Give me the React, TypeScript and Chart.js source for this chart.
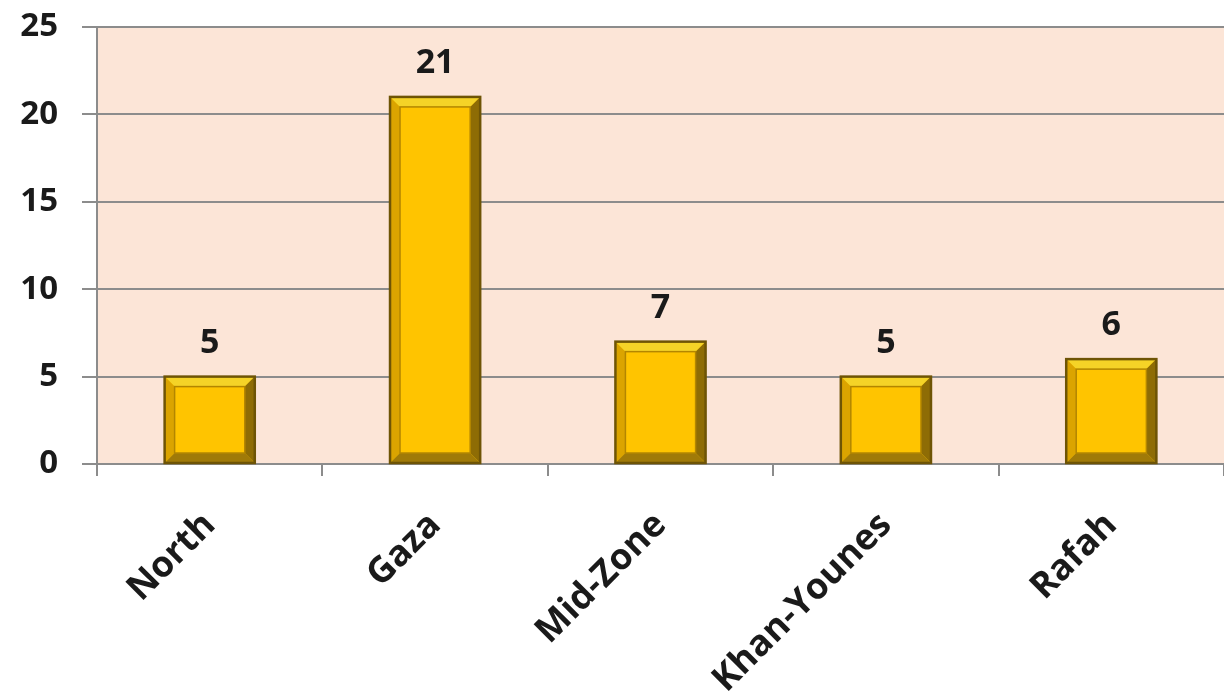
import React, { useEffect, useRef } from "react";
import { Chart, registerables } from "chart.js";

Chart.register(...registerables);

const categories = ["North", "Gaza", "Mid-Zone", "Khan-Younes", "Rafah"];
const counts = [5, 21, 7, 5, 6];
const yTicks = [0, 5, 10, 15, 20, 25];

const FONT = "'Open Sans', 'Liberation Sans', sans-serif";

const bgPlugin = {
  id: "plotBg",
  beforeDraw(chart: any) {
    const { ctx, chartArea } = chart;
    ctx.save();
    ctx.fillStyle = "#FCE5D7";
    ctx.fillRect(chartArea.left, chartArea.top, chartArea.right - chartArea.left, chartArea.bottom - chartArea.top);
    ctx.restore();
  },
};

const bevelPlugin = {
  id: "bevel",
  afterDatasetsDraw(chart: any) {
    const { ctx } = chart;
    const meta = chart.getDatasetMeta(0);
    ctx.save();
    meta.data.forEach((bar: any) => {
      const w = bar.width;
      const l = bar.x - w / 2;
      const r = bar.x + w / 2;
      const t = bar.y;
      const b = bar.base;
      const bv = 10;
      const poly = (pts: number[][], color: string) => {
        ctx.beginPath();
        ctx.moveTo(pts[0][0], pts[0][1]);
        for (let i = 1; i < pts.length; i++) ctx.lineTo(pts[i][0], pts[i][1]);
        ctx.closePath();
        ctx.fillStyle = color;
        ctx.fill();
      };
      poly([[l, t], [r, t], [r - bv, t + bv], [l + bv, t + bv]], "#F5D327");
      poly([[l, t], [l + bv, t + bv], [l + bv, b - bv], [l, b]], "#DBA400");
      poly([[r, t], [r, b], [r - bv, b - bv], [r - bv, t + bv]], "#8E6C05");
      poly([[l, b], [l + bv, b - bv], [r - bv, b - bv], [r, b]], "#A07A08");
      ctx.strokeStyle = "#B38600";
      ctx.lineWidth = 1.5;
      ctx.strokeRect(l + bv, t + bv, w - 2 * bv, b - t - 2 * bv);
      ctx.strokeStyle = "#6E5405";
      ctx.lineWidth = 2.5;
      ctx.strokeRect(l, t, w, b - t);
    });
    ctx.restore();
  },
};

const labelPlugin = {
  id: "valueLabels",
  afterDatasetsDraw(chart: any) {
    const { ctx } = chart;
    const meta = chart.getDatasetMeta(0);
    const data = chart.data.datasets[0].data;
    ctx.save();
    ctx.font = `bold 34px ${FONT}`;
    ctx.fillStyle = "#1a1a1a";
    ctx.textAlign = "center";
    ctx.textBaseline = "alphabetic";
    meta.data.forEach((bar: any, i: number) => {
      ctx.fillText(String(data[i]), bar.x, bar.y - 24);
    });
    ctx.restore();
  },
};

export default function App() {
  const ref = useRef<HTMLCanvasElement>(null);
  useEffect(() => {
    document.body.style.margin = "0";
    const chart = new Chart(ref.current!, {
      type: "bar",
      data: {
        labels: categories,
        datasets: [
          {
            data: counts,
            backgroundColor: "#FFC400",
            borderWidth: 0,
            barPercentage: 0.4,
            categoryPercentage: 1,
          },
        ],
      },
      options: {
        responsive: false,
        animation: false,
        layout: { padding: { top: 27, right: 0, left: 0, bottom: 0 } },
        plugins: { legend: { display: false }, tooltip: { enabled: false } },
        scales: {
          x: {
            grid: {
              drawOnChartArea: false,
              drawTicks: true,
              tickLength: 12,
              color: "#8c8c8c",
              lineWidth: 2,
              offset: true,
            },
            border: { color: "#8c8c8c", width: 2 },
            ticks: {
              color: "#1a1a1a",
              font: { family: FONT, size: 36, weight: "bold" },
              maxRotation: 45,
              minRotation: 45,
              padding: 28,
            },
            afterFit(scale: any) {
              scale.height = 228;
              scale.paddingLeft = 0;
              scale.paddingRight = 0;
              scale.paddingTop = 0;
              scale.paddingBottom = 0;
            },
          },
          y: {
            min: 0,
            max: 25,
            afterBuildTicks(scale: any) {
              scale.ticks = yTicks.map((v) => ({ value: v }));
            },
            grid: {
              color: "#8c8c8c",
              lineWidth: 2,
              drawTicks: true,
              tickLength: 15,
            },
            border: { color: "#8c8c8c", width: 2 },
            ticks: {
              color: "#1a1a1a",
              font: { family: FONT, size: 33, weight: "bold" },
              padding: 24,
            },
            afterFit(scale: any) {
              scale.width = 97;
              scale.paddingTop = 0;
              scale.paddingBottom = 0;
              scale.paddingLeft = 0;
              scale.paddingRight = 0;
            },
          },
        },
      },
      plugins: [bgPlugin, bevelPlugin, labelPlugin],
    });
    return () => chart.destroy();
  }, []);
  return <canvas ref={ref} width={1224} height={692} style={{ display: "block" }} />;
}
